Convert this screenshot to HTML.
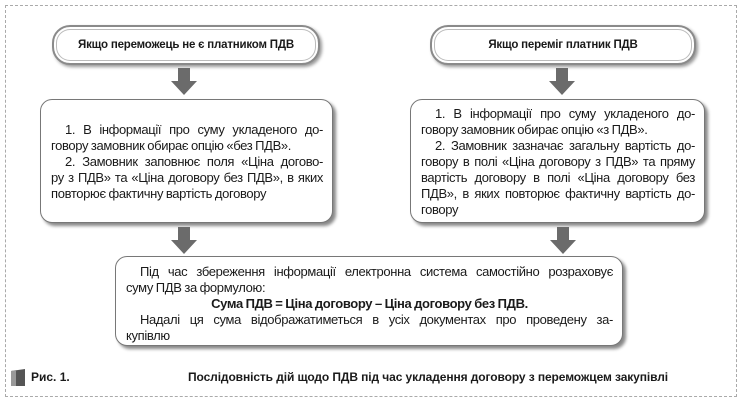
<!DOCTYPE html>
<html><head><meta charset="utf-8"><style>
body{margin:0;width:744px;height:404px;background:#fff;position:relative;overflow:hidden;font-family:"Liberation Sans",sans-serif;color:#1a1a1a}
.frame{position:absolute;left:5px;top:5px;width:730px;height:390px;border:1px dashed #aaa}
.pill{position:absolute;height:36px;border:2px solid #8a8a8a;border-radius:18px;box-shadow:inset 0 0 0 2px #fff,inset 0 0 0 3px #bbb,2px 2px 3px #999;background:#fff;font-weight:bold;font-size:11.5px;text-align:center;line-height:36px;letter-spacing:-0.2px}
.box{position:absolute;border:1.5px solid #777;border-radius:12px;background:#fff;box-shadow:3px 3px 3px #888;font-size:13px;line-height:16px;box-sizing:border-box;letter-spacing:-0.35px;word-spacing:-0.5px}
.box span{display:block;white-space:nowrap;text-align:justify;text-align-last:justify}
.box span.l{text-align-last:left}
.box span.i{padding-left:14px}
.arrow{position:absolute;width:26px;height:27px}
</style></head><body>
<div class="frame"></div>
<div class="pill" style="left:52px;top:25px;width:264px">Якщо переможець не є платником ПДВ</div>
<div class="pill" style="left:430px;top:25px;width:262px">Якщо переміг платник ПДВ</div>
<svg class="arrow" style="left:171px;top:68px" viewBox="0 0 26 27"><path d="M7 0H19V13H26L13 27L0 13H7Z" fill="#6b6b6b"/></svg>
<svg class="arrow" style="left:549px;top:68px" viewBox="0 0 26 27"><path d="M7 0H19V13H26L13 27L0 13H7Z" fill="#6b6b6b"/></svg>
<div class="box" style="left:40px;top:99px;width:293px;height:124px;padding:22px 9px 0 10px">
<span class="i">1. В інформації про суму укладеного до-</span>
<span class="l">говору замовник обирає опцію «без ПДВ».</span>
<span class="i">2. Замовник заповнює поля «Ціна догово-</span>
<span>ру з ПДВ» та «Ціна договору без ПДВ», в яких</span>
<span class="l">повторює фактичну вартість договору</span></div>
<div class="box" style="left:410px;top:99px;width:295px;height:124px;padding:6px 9px 0 10px">
<span class="i">1. В інформації про суму укладеного до-</span>
<span class="l">говору замовник обирає опцію «з ПДВ».</span>
<span class="i">2. Замовник зазначає загальну вартість до-</span>
<span>говору в полі «Ціна договору з ПДВ» та пряму</span>
<span>вартість договору в полі «Ціна договору без</span>
<span>ПДВ», в яких повторює фактичну вартість до-</span>
<span class="l">говору</span></div>
<svg class="arrow" style="left:171px;top:227px" viewBox="0 0 26 27"><path d="M7 0H19V13H26L13 27L0 13H7Z" fill="#6b6b6b"/></svg>
<svg class="arrow" style="left:550px;top:227px" viewBox="0 0 26 27"><path d="M7 0H19V13H26L13 27L0 13H7Z" fill="#6b6b6b"/></svg>
<div class="box" style="left:115px;top:256px;width:508px;height:90px;padding:7px 9px 0 10px">
<span class="i">Під час збереження інформації електронна система самостійно розраховує</span>
<span class="l">суму ПДВ за формулою:</span>
<span class="l" style="text-align:center;text-align-last:center;font-weight:bold">Сума ПДВ = Ціна договору – Ціна договору без ПДВ.</span>
<span class="i">Надалі ця сума відображатиметься в усіх документах про проведену за-</span>
<span class="l">купівлю</span></div>
<svg style="position:absolute;left:10px;top:369px" width="16" height="18"><path d="M1 2L15 0V17L1 17Z" fill="#555"/><path d="M1 2L6 1V17H1Z" fill="#999"/></svg>
<div style="position:absolute;left:31px;top:370px;font-weight:bold;font-size:12px">Рис. 1.</div>
<div style="position:absolute;left:188px;top:370px;font-weight:bold;font-size:12px;white-space:nowrap;letter-spacing:-0.1px">Послідовність дій щодо ПДВ під час укладення договору з переможцем закупівлі</div>
</body></html>
